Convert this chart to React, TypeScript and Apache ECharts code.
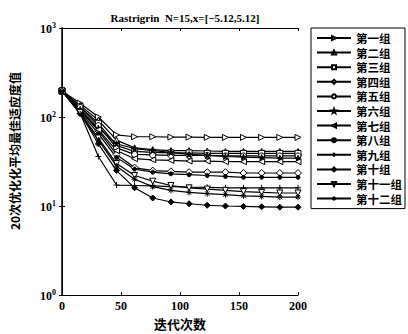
import React, { useEffect, useRef } from "react";
import * as echarts from "echarts";

const iterations = [0, 15.4, 30.8, 46.2, 61.5, 76.9, 92.3, 107.7, 123.1, 138.5, 153.8, 169.2, 184.6, 200];
const groupNames = ["第一组", "第二组", "第三组", "第四组", "第五组", "第六组", "第七组", "第八组", "第九组", "第十组", "第十一组", "第十二组"];
const g1 = [196, 143, 100, 63, 60, 60, 59.5, 59.5, 59, 59, 59, 59, 59, 59];
const g2 = [196, 135, 92, 55, 45, 43, 42, 42, 41.5, 41, 41, 41, 41, 41];
const g3 = [196, 130, 85, 48, 41, 40, 39.5, 39.5, 39, 39, 39, 39, 39, 39];
const g4 = [196, 120, 70, 38, 27, 25, 24.5, 24, 24, 24, 23.5, 23.5, 23.5, 23.5];
const g5 = [196, 128, 80, 45, 38, 37.5, 37, 37, 37, 36.5, 36.5, 36.5, 36.5, 36.5];
const g6 = [196, 122, 75, 50, 44, 42, 40, 38, 37, 36, 35.5, 35, 34.5, 34.5];
const g7 = [196, 118, 72, 42, 34, 33, 32.5, 32, 32, 31.5, 31.5, 31.5, 31.5, 31.5];
const g8 = [196, 115, 65, 35, 26, 24, 23, 22.5, 22, 21.5, 21, 21, 21, 21];
const g9 = [196, 110, 36, 17.2, 17, 16.8, 16.5, 16.3, 16.2, 16, 16, 16, 16, 16];
const g10 = [196, 110, 50, 25, 16, 12.3, 11.1, 10.6, 10.2, 10, 9.9, 9.8, 9.7, 9.7];
const g11 = [196, 112, 58, 30, 22, 19, 17, 16, 15.5, 15, 14.5, 14.2, 14, 14];
const g12 = [196, 108, 55, 28, 20, 16.5, 15, 14.2, 13.8, 13.4, 13, 12.8, 12.6, 12.6];
const groupValues = [g1, g2, g3, g4, g5, g6, g7, g8, g9, g10, g11, g12];
const yTicks = [1, 10, 100, 1000];
const xTicks = [0, 50, 100, 150, 200];

const STAR = "path://M5,0 L6.2,3.6 L10,3.6 L7,5.9 L8.1,9.5 L5,7.3 L1.9,9.5 L3,5.9 L0,3.6 L3.8,3.6 Z";
const PLUS = "path://M5,0 L5,10 M0,5 L10,5";
const ASTER = "path://M5,0 L5,10 M0,5 L10,5 M1.5,1.5 L8.5,8.5 M8.5,1.5 L1.5,8.5";

const markers = [
  { symbol: "triangle", rotate: -90, fill: false, size: 6 },
  { symbol: "triangle", rotate: 0, fill: false, size: 6 },
  { symbol: "rect", rotate: 0, fill: false, size: 6 },
  { symbol: "diamond", rotate: 0, fill: false, size: 7 },
  { symbol: "circle", rotate: 0, fill: false, size: 6 },
  { symbol: STAR, rotate: 0, fill: true, size: 6 },
  { symbol: "triangle", rotate: 90, fill: false, size: 6 },
  { symbol: "circle", rotate: 0, fill: true, size: 4 },
  { symbol: PLUS, rotate: 0, fill: false, size: 6 },
  { symbol: "diamond", rotate: 0, fill: true, size: 6 },
  { symbol: "triangle", rotate: 180, fill: false, size: 6 },
  { symbol: ASTER, rotate: 0, fill: false, size: 6 },
];

const SERIF = "'Liberation Serif', 'DejaVu Serif', serif";
const CJK = "'Noto Sans CJK SC', sans-serif";

export default function App() {
  const ref = useRef<HTMLDivElement>(null);
  useEffect(() => {
    if (!ref.current) return;
    const chart = echarts.init(ref.current, null, { renderer: "svg" });
    const series = groupNames.map((name, i) => {
      const m = markers[i];
      return {
        name,
        type: "line",
        xAxisIndex: 0,
        yAxisIndex: 0,
        data: iterations.map((x, j) => [x, groupValues[i][j]]),
        symbol: m.symbol,
        symbolSize: m.size,
        symbolRotate: m.rotate,
        showAllSymbol: true,
        lineStyle: { color: "#000", width: 1.2 },
        itemStyle: {
          color: m.fill ? "#000" : "#fff",
          borderColor: "#000",
          borderWidth: 1,
        },
        emphasis: { disabled: true },
      };
    });
    chart.setOption({
      animation: false,
      backgroundColor: "#fff",
      title: {
        text: "Rastrigrin  N=15,x=[\u22125.12,5.12]",
        left: 180,
        top: 7,
        textAlign: "center",
        textStyle: { fontFamily: SERIF, fontSize: 11, fontWeight: "bold", color: "#000" },
      },
      grid: { left: 62, right: 110, top: 28, bottom: 39, containLabel: false },
      legend: {
        orient: "vertical",
        left: 311,
        top: 28,
        padding: [4, 3, 4, 5],
        itemGap: 2.6,
        itemWidth: 34,
        itemHeight: 5,
        borderColor: "#000",
        borderWidth: 1,
        backgroundColor: "#fff",
        textStyle: { fontFamily: CJK, fontSize: 11.5, fontWeight: "bold", color: "#000", lineHeight: 12 },
        data: groupNames,
      },
      xAxis: [
        {
          type: "value",
          min: 0,
          max: 200,
          interval: 50,
          position: "bottom",
          axisLine: { show: true, lineStyle: { color: "#000", width: 1 } },
          axisTick: { show: true, inside: true, length: 3, lineStyle: { color: "#000" } },
          axisLabel: {
            margin: 5,
            fontFamily: SERIF,
            fontSize: 12,
            fontWeight: "bold",
            color: "#000",
            formatter: (v: number) => (xTicks.includes(v) ? String(v) : ""),
          },
          splitLine: { show: false },
        },
        {
          type: "value",
          min: 0,
          max: 200,
          interval: 50,
          position: "top",
          axisLine: { show: true, lineStyle: { color: "#000", width: 1 } },
          axisTick: { show: true, inside: true, length: 3, lineStyle: { color: "#000" } },
          axisLabel: { show: false },
          splitLine: { show: false },
        },
      ],
      yAxis: [
        {
          type: "log",
          logBase: 10,
          min: 1,
          max: 1000,
          position: "left",
          axisLine: { show: true, lineStyle: { color: "#000", width: 1.5 } },
          axisTick: { show: true, inside: true, length: 3, lineStyle: { color: "#000" } },
          axisLabel: {
            margin: 6,
            formatter: (v: number) =>
              yTicks.includes(v) ? `{b|10}{s|${Math.round(Math.log10(v))}}` : "",
            rich: {
              b: { fontFamily: SERIF, fontSize: 12, fontWeight: "bold", color: "#000", lineHeight: 14, verticalAlign: "bottom" },
              s: { fontFamily: SERIF, fontSize: 8, fontWeight: "bold", color: "#000", lineHeight: 14, verticalAlign: "top" },
            },
          },
          splitLine: { show: false },
        },
        {
          type: "log",
          logBase: 10,
          min: 1,
          max: 1000,
          position: "right",
          axisLine: { show: true, lineStyle: { color: "#000", width: 1 } },
          axisTick: { show: true, inside: true, length: 3, lineStyle: { color: "#000" } },
          axisLabel: { show: false },
          splitLine: { show: false },
        },
      ],
      graphic: [
        {
          type: "text",
          x: 180,
          y: 323,
          style: {
            text: "迭代次数",
            fontFamily: CJK,
            fontSize: 13,
            fontWeight: "bold",
            fill: "#000",
            textAlign: "center",
            textVerticalAlign: "middle",
          },
        },
        {
          type: "text",
          x: 14,
          y: 151,
          rotation: Math.PI / 2,
          style: {
            text: "20次优化化平均最佳适应度值",
            fontFamily: CJK,
            fontSize: 12,
            fontWeight: "bold",
            fill: "#000",
            textAlign: "center",
            textVerticalAlign: "middle",
          },
        },
      ],
      series,
    });
    return () => chart.dispose();
  }, []);
  return (
    <div
      ref={ref}
      style={{ position: "absolute", left: 0, top: 0, width: 408, height: 334 }}
    />
  );
}
